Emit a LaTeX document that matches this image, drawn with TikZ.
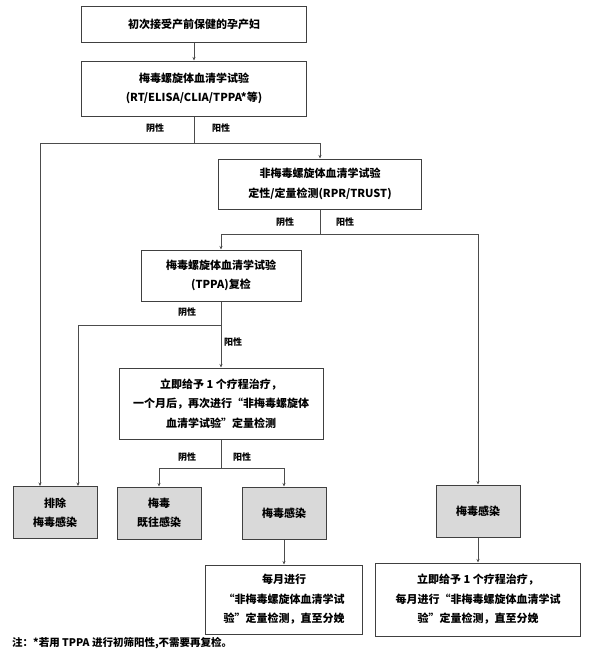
\documentclass[tikz,border=0pt]{standalone}
\usepackage{fontspec}
\setmainfont{Noto Sans CJK SC}
\usetikzlibrary{arrows.meta}

\begin{document}
\begin{tikzpicture}[x=1pt, y=-1pt,
    box/.style={draw=black!75, line width=1pt, align=center, inner sep=0pt, font=\fontsize{11}{19.5}\selectfont\bfseries},
    result/.style={box, fill=black!15, minimum width=84, minimum height=52},
    tag/.style={inner sep=0pt, font=\fontsize{9}{9}\selectfont\bfseries},
    link/.style={draw=black!70, line width=0.9pt},
    >={Stealth[length=3.5pt, width=3pt]}]
    \useasboundingbox (0,0) rectangle (593,659);
    \node [box, minimum width=225, minimum height=36] (start) at (194,24) {初次接受产前保健的孕产妇};
    \node [box, minimum width=225, minimum height=55] (test) at (194,88.5) {梅毒螺旋体血清学试验\\(RT/ELISA/CLIA/TPPA*等)};
    \node [box, minimum width=203, minimum height=50] (nontrep) at (320,184) {非梅毒螺旋体血清学试验\\定性/定量检测(RPR/TRUST)};
    \node [box, minimum width=160, minimum height=51] (tppa) at (221,275.5) {梅毒螺旋体血清学试验\\(TPPA)复检};
    \node [box, minimum width=204, minimum height=71] (treat) at (221,403.5) {立即给予 1 个疗程治疗，\\一个月后，再次进行“非梅毒螺旋体\\血清学试验”定量检测};
    \node [result] (exclude) at (55,512.5) {排除\\梅毒感染};
    \node [result] (past) at (159,513) {梅毒\\既往感染};
    \node [result] (infect) at (284,513) {梅毒感染};
    \node [result] (infect2) at (478,511) {梅毒感染};
    \node [box, minimum width=157, minimum height=69] (monthly) at (284,599.5) {每月进行\\“非梅毒螺旋体血清学试\\验”定量检测，直至分娩};
    \node [box, minimum width=205, minimum height=73] (treat2) at (478,599.5) {立即给予 1 个疗程治疗，\\每月进行“非梅毒螺旋体血清学试\\验”定量检测，直至分娩};
    \node [anchor=west, inner sep=0pt, font=\fontsize{10.5}{10.5}\selectfont\bfseries] (note) at (12,643) {注：*若用 TPPA 进行初筛阳性,不需要再复检。};
    \coordinate (split1) at (194,143);
    \coordinate (split2) at (320,234);
    \coordinate (split3) at (221,325);
    \coordinate (split4) at (221,468);
    \draw [link, ->] (start) -- (test);
    \draw [link] (test) -- (split1);
    \draw [link, ->] (split1) -| (nontrep.north);
    \draw [link, ->] (split1) -| ([xshift=-15]exclude.north);
    \draw [link] (nontrep) -- (split2);
    \draw [link, ->] (split2) -| (tppa.north);
    \draw [link, ->] (split2) -| (infect2.north);
    \draw [link, ->] (tppa) -- (treat);
    \draw [link, ->] (split3) -| ([xshift=23]exclude.north);
    \draw [link] (treat) -- (split4);
    \draw [link, ->] (split4) -| (past.north);
    \draw [link, ->] (split4) -| (infect.north);
    \draw [link, ->] (infect) -- (monthly);
    \draw [link, ->] (infect2) -- (treat2);
    \node [tag] (neg1) at (155,128) {阴性};
    \node [tag] (pos1) at (221,128) {阳性};
    \node [tag] (neg2) at (285,222) {阴性};
    \node [tag] (pos2) at (345,222) {阳性};
    \node [tag] (neg3) at (187,312) {阴性};
    \node [tag] (pos3) at (233,342) {阳性};
    \node [tag] (neg4) at (187,457) {阴性};
    \node [tag] (pos4) at (242,457) {阳性};
\end{tikzpicture}
\end{document}
